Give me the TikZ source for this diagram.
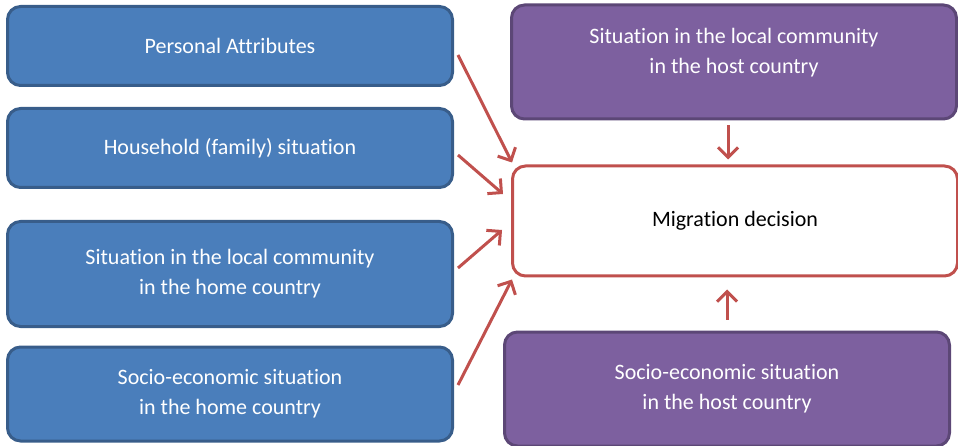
\documentclass[tikz,border=0pt]{standalone}
\usepackage{fontspec}
\setmainfont{Carlito}[Ligatures={NoCommon,NoContextual}]
\usetikzlibrary{calc,positioning,arrows.meta}
\definecolor{boxblue}{HTML}{4A7EBB}
\definecolor{edgeblue}{HTML}{385D8A}
\definecolor{boxpurple}{HTML}{7D609F}
\definecolor{edgepurple}{HTML}{5C4776}
\definecolor{arrowred}{HTML}{C0504D}

\begin{document}
\begin{tikzpicture}[x=1pt,y=-1pt,inner sep=0pt,
	homebox/.style={draw=edgeblue,fill=boxblue,line width=3pt,rounded corners=13pt,
		minimum width=445pt,text=white,align=center,font=\fontsize{22}{30}\selectfont},
	hostbox/.style={homebox,draw=edgepurple,fill=boxpurple},
	decbox/.style={homebox,draw=arrowred,fill=white,text=black},
	txt/.style={text=white,align=center,font=\fontsize{22}{30}\selectfont},
	infl/.style={draw=arrowred,line width=3pt,-{Straight Barb[length=10pt,width=20pt]}}]

\useasboundingbox (0,0) rectangle (958,446);

\node (pa) at (230,46) [homebox,minimum height=79pt]{Personal Attributes};
\node (hh) at (230,148) [homebox,minimum height=79pt]{Household (family) situation};
\node (lc) at (230,274) [homebox,minimum height=105pt]{Situation in the local community\\in the home country};
\node (se) at (230,394) [homebox,minimum height=94pt]{Socio-economic situation\\in the home country};

\node (hostlc) at (734,62) [hostbox,minimum height=114pt]{};
\node (hostlctxt) at (734,53) [txt]{Situation in the local community\\in the host country};
\node (hostse) at (727,389) [hostbox,minimum height=114pt]{Socio-economic situation\\in the host country};

\node (dec) at (735,221) [decbox,minimum height=110pt]{Migration decision};

\draw [infl] ($(pa.east)+(4,9)$) -- ($(dec.north west)+(1,-2)$);
\draw [infl] ($(hh.east)+(4,7)$) -- ($(dec.west)+(-8,-27)$);
\draw [infl] ($(lc.east)+(4,-6)$) -- ($(dec.west)+(-9,9)$);
\draw [infl] ($(se.east)+(4,-9)$) -- ($(dec.south west)+(1,2)$);
\draw [infl] ($(hostlc.south)+(-6,5)$) -- ($(dec.north)+(-7,-5)$);
\draw [infl] ($(hostse.north)+(0,-11)$) -- ($(dec.south)+(-8,12)$);

\end{tikzpicture}
\end{document}
